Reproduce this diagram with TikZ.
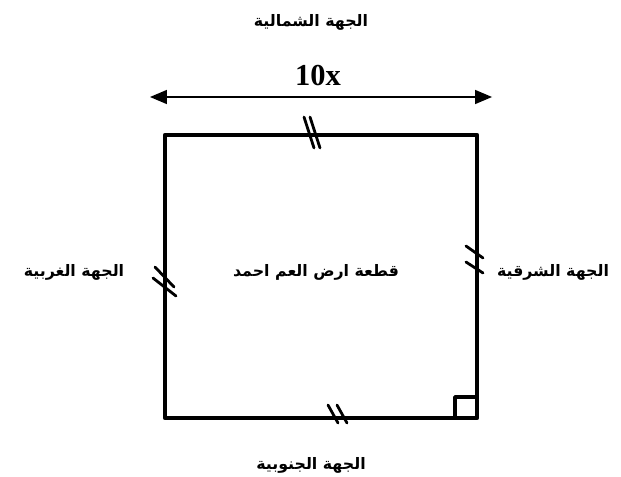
\documentclass[tikz,border=0pt]{standalone}
\usepackage{fontspec}
\setmainfont{Liberation Serif}
\newfontfamily\arabicfont[Script=Arabic]{DejaVu Sans}
\TeXXeTstate=1
\usetikzlibrary{arrows}
\tikzset{
  side/.style={line width=4pt},
  tick/.style={line width=2.4pt},
  ar/.style={font=\arabicfont\bfseries\fontsize{13.5}{16}\selectfont}
}
\begin{document}
\begin{tikzpicture}[line cap=round,line join=round,>=triangle 45,x=0.03cm,y=-0.03cm]
		\useasboundingbox (0,0) rectangle (621,476);
		% corners of the plot
		\coordinate (NW) at (165,135);
		\coordinate (NE) at (477,135);
		\coordinate (SE) at (477,418);
		\coordinate (SW) at (165,418);
		\draw [side,line cap=butt] (NW)-- (NE)-- (SE)-- (SW)-- cycle;
		% width arrow
		\coordinate (A1) at (150,97);
		\coordinate (A2) at (492,97);
		\draw [line width=2.4pt,<->] (A1)-- (A2);
		\node [font=\bfseries\fontsize{26}{28}\selectfont] (len) at (318,76) {10x};
		% equal sides
		\draw [tick] (304,117)-- (314,148);
		\draw [tick] (310,117)-- (320,148);
		\draw [tick] (328,405)-- (338,423);
		\draw [tick] (337,405)-- (347,423);
		\draw [tick] (155,267)-- (174,287);
		\draw [tick] (153,278)-- (176,296);
		\draw [tick] (466,246)-- (483,258);
		\draw [tick] (466,262)-- (483,273);
		% right angle
		\draw [line width=3pt,line cap=butt] (455,418)-- (455,397)-- (477,397);
		% labels
		\node [ar] (north) at (311,22) {\beginR الجهة الشمالية\endR};
		\node [ar] (south) at (311,465) {\beginR الجهة الجنوبية\endR};
		\node [ar] (west) at (74,272) {\beginR الجهة الغربية\endR};
		\node [ar] (east) at (553,272) {\beginR الجهة الشرقية\endR};
		\node [ar] (plot) at (316,272) {\beginR قطعة ارض العم احمد\endR};
	\end{tikzpicture}
\end{document}
